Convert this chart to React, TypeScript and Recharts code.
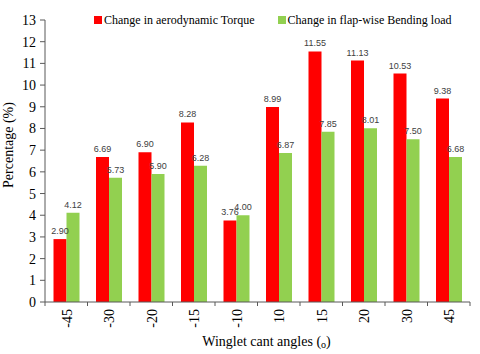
import { Bar, BarChart, Label, LabelList, Legend, XAxis, YAxis } from "recharts";

// Winglet cant angle study: % change in torque and flap-wise bending load
// per cant angle. Values read off the data labels of the original figure.
const ANGLES = ["-45", "-30", "-20", "-15", "-10", "10", "15", "20", "30", "45"];
const TORQUE = [2.9, 6.69, 6.9, 8.28, 3.76, 8.99, 11.55, 11.13, 10.53, 9.38];
const BENDING = [4.12, 5.73, 5.9, 6.28, 4.0, 6.87, 7.85, 8.01, 7.5, 6.68];
const Y_TICKS = [0, 1, 2, 3, 4, 5, 6, 7, 8, 9, 10, 11, 12, 13];

const SERIES = [
  { key: "torque", name: "Change in aerodynamic Torque", color: "#ff0000" },
  { key: "bending", name: "Change in flap-wise Bending load", color: "#92d050" },
];

const data = ANGLES.map((angle, i) => ({
  angle,
  torque: TORQUE[i],
  bending: BENDING[i],
}));

const W = 480;
const H = 354;
const MARGIN = { top: 0, right: 10, bottom: 0, left: 0 };
const Y_W = 45;
const PLOT_W = W - MARGIN.left - MARGIN.right - Y_W;
const BAND = PLOT_W / ANGLES.length;

const SERIF = "'Liberation Serif', 'Times New Roman', serif";
const AXIS = "#595959";

// Excel-style category axis: tick marks sit between categories, labels rotated.
function AngleTick(props: any) {
  const { x, y, payload, index } = props;
  const half = BAND / 2;
  const ly = y + 7;
  return (
    <g>
      <line x1={x - half} x2={x - half} y1={y} y2={y + 4} stroke={AXIS} />
      {index === ANGLES.length - 1 && (
        <line x1={x + half} x2={x + half} y1={y} y2={y + 4} stroke={AXIS} />
      )}
      <text
        x={x + 1}
        y={ly}
        transform={`rotate(-90 ${x + 1} ${ly})`}
        textAnchor="end"
        dominantBaseline="central"
        fontFamily={SERIF}
        fontSize={14}
        fill="#000"
      >
        {payload.value}
      </text>
    </g>
  );
}

function LegendRow() {
  return (
    <div
      style={{
        display: "flex",
        flexWrap: "nowrap",
        paddingLeft: 94,
        gap: 23,
        fontFamily: SERIF,
        fontSize: 12,
        lineHeight: "20px",
        whiteSpace: "nowrap",
      }}
    >
      {SERIES.map((s) => (
        <span key={s.key} style={{ display: "inline-flex", alignItems: "center", gap: 2, flexShrink: 0 }}>
          <span style={{ display: "inline-block", width: 8, height: 8, background: s.color }} />
          {s.name}
        </span>
      ))}
    </div>
  );
}

export default function App() {
  return (
    <div style={{ position: "absolute", left: 0, top: 0, width: W, height: H, background: "#fff" }}>
      <BarChart width={W} height={H} data={data} margin={MARGIN} barCategoryGap="20%" barGap={0}>
        <Legend
          verticalAlign="top"
          align="left"
          height={20}
          wrapperStyle={{ top: 10, left: 0, width: W }}
          content={() => <LegendRow />}
        />
        <XAxis
          dataKey="angle"
          interval={0}
          height={52}
          tickSize={0}
          tickMargin={0}
          tickLine={false}
          axisLine={{ stroke: AXIS }}
          tick={<AngleTick />}
        >
          <Label
            content={(p: any) => {
              const vb = p.viewBox;
              const cx = vb.x + vb.width / 2 + 9;
              return (
                <text x={cx} y={346} textAnchor="middle" fontFamily={SERIF} fontSize={14} fill="#000">
                  Winglet cant angles (
                  <tspan fontSize={10} dy={2}>o</tspan>
                  <tspan dy={-2}>)</tspan>
                </text>
              );
            }}
          />
        </XAxis>
        <YAxis
          type="number"
          domain={[0, 13]}
          ticks={Y_TICKS}
          interval={0}
          width={Y_W}
          tickSize={5}
          tickMargin={4}
          axisLine={{ stroke: AXIS }}
          tickLine={{ stroke: AXIS }}
          tick={{ fontFamily: SERIF, fontSize: 14, fill: "#000" }}
        >
          <Label
            content={(p: any) => {
              const vb = p.viewBox;
              const cy = vb.y + vb.height / 2 - 16;
              return (
                <text
                  x={13}
                  y={cy}
                  transform={`rotate(-90 13 ${cy})`}
                  textAnchor="middle"
                  fontFamily={SERIF}
                  fontSize={14}
                  fill="#000"
                >
                  Percentage (%)
                </text>
              );
            }}
          />
        </YAxis>
        {SERIES.map((s) => (
          <Bar key={s.key} dataKey={s.key} name={s.name} fill={s.color} isAnimationActive={false}>
            <LabelList
              dataKey={s.key}
              position="top"
              offset={5}
              fontSize={9}
              fontFamily="'Liberation Sans', Arial, sans-serif"
              fill="#404040"
              formatter={(v: any) => Number(v).toFixed(2)}
            />
          </Bar>
        ))}
      </BarChart>
    </div>
  );
}
